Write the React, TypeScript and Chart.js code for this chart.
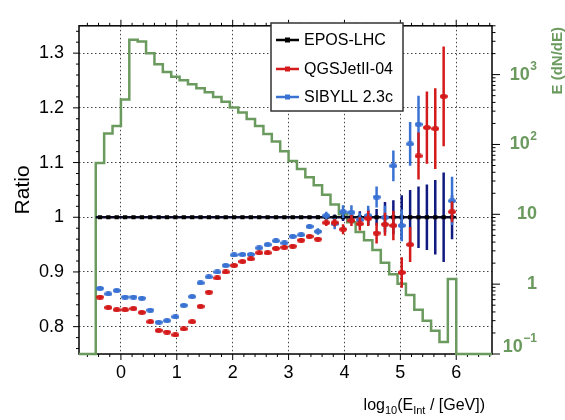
import React, { useEffect, useRef } from 'react';
import { Chart, registerables } from 'chart.js';

Chart.register(...registerables);

const FONT = '"Liberation Sans", Arial, Helvetica, sans-serif';

// Binning in log10(E_int / GeV)
const binLow = -0.45;
const binWidth = 0.15;

// Ratio to EPOS-LHC (per bin)
const eposRatio = [
  1, 1, 1, 1, 1, 1, 1, 1, 1, 1,
  1, 1, 1, 1, 1, 1, 1, 1, 1, 1,
  1, 1, 1, 1, 1, 1, 1, 1, 1, 1,
  1, 1, 1, 1, 1, 1, 1, 1, 1, 1,
  1, 1, 1,
];
const eposErr = [
  0.002, 0.002, 0.002, 0.002, 0.002, 0.002, 0.002, 0.002, 0.002, 0.002,
  0.002, 0.002, 0.002, 0.002, 0.002, 0.002, 0.002, 0.002, 0.002, 0.002,
  0.002, 0.002, 0.002, 0.002, 0.002, 0.002, 0.003, 0.004, 0.005, 0.007,
  0.009, 0.011, 0.014, 0.015, 0.028, 0.031, 0.040, 0.050, 0.056, 0.060,
  0.068, 0.082, 0.040,
];
const qgsRatio = [
  0.854, 0.835, 0.831, 0.831, 0.833, 0.826, 0.809, 0.793, 0.790, 0.785,
  0.796, 0.809, 0.837, 0.863, 0.889, 0.900, 0.912, 0.919, 0.924, 0.935,
  0.935, 0.943, 0.945, 0.947, 0.958, 0.965, 0.960, 0.990, 0.990, 0.978,
  0.994, 0.988, 0.998, 0.971, 0.987, 0.985, 0.899, 0.950, 1.112, 1.164,
  1.162, 1.221, 1.010,
];
const qgsErr = [
  0.003, 0.003, 0.003, 0.003, 0.003, 0.003, 0.003, 0.003, 0.003, 0.003,
  0.003, 0.003, 0.003, 0.003, 0.003, 0.003, 0.003, 0.003, 0.003, 0.003,
  0.003, 0.004, 0.004, 0.004, 0.004, 0.004, 0.004, 0.006, 0.007, 0.009,
  0.010, 0.012, 0.014, 0.019, 0.021, 0.027, 0.028, 0.032, 0.043, 0.066,
  0.074, 0.091, 0.019,
];
const sibyllRatio: (number | null)[] = [
  0.870, 0.860, 0.866, 0.854, 0.854, 0.852, 0.830, 0.808, 0.811, 0.818,
  0.839, 0.855, 0.880, 0.891, 0.900, 0.912, 0.931, 0.932, 0.932, 0.944,
  0.950, 0.957, 0.953, 0.965, 0.968, 0.983, 0.974, 1.003, 0.988, 1.010,
  1.009, 0.995, 1.003, 1.037, 1.000, 1.094, 0.985, 1.134, 1.170, null,
  null, null, 1.030,
];
const sibyllErr = [
  0.003, 0.003, 0.003, 0.003, 0.003, 0.003, 0.003, 0.003, 0.003, 0.003,
  0.003, 0.003, 0.003, 0.003, 0.003, 0.003, 0.003, 0.003, 0.003, 0.003,
  0.003, 0.004, 0.004, 0.004, 0.004, 0.004, 0.006, 0.007, 0.010, 0.012,
  0.013, 0.013, 0.018, 0.019, 0.021, 0.028, 0.029, 0.040, 0.052, 0,
  0, 0, 0.044,
];
// E (dN/dE) spectrum (right, log axis)
const spectrum = [
  54.5, 144, 184, 440, 3160, 2990, 2020, 1410, 1090, 929,
  834, 726, 639, 557, 480, 408, 337, 287, 232, 184,
  141, 110, 80, 58, 44.6, 34, 26.1, 19, 13.8, 10,
  7.7, 5.6, 4.26, 3.09, 2.02, 1.39, 1.01, 0.70, 0.43, 0.30,
  0.215, 0.148, 1.19,
];

const xTickValues = [0, 1, 2, 3, 4, 5, 6];
const yTickValues = [0.8, 0.9, 1, 1.1, 1.2, 1.3];
const rightTickValues = [1000, 100, 10, 1, 0.1];
const rightTickBase = ['10', '10', '10', '1', '10'];
const rightTickExp = ['3', '2', '', '', '\u22121'];

const X_MIN = -0.75;
const X_MAX = 6.64;
const Y_MIN = 0.75;
const Y_MAX = 1.35;
const Y2_MIN = 0.1;
const Y2_MAX = 5000;

const GREEN = '#6b9a5e';
const RED = '#d41a1a';
const BLUE = '#3a72d4';
const NAVY = '#111a80';

function makeEllipse(color: string, w: number, h: number) {
  const c = document.createElement('canvas');
  c.width = w;
  c.height = h;
  const g = c.getContext('2d')!;
  g.fillStyle = color;
  g.beginPath();
  g.ellipse(w / 2, h / 2, w / 2, h / 2, 0, 0, Math.PI * 2);
  g.fill();
  return c;
}

const rootPlugin = {
  id: 'rootStyle',
  beforeDatasetsDraw(chart: any) {
    const { ctx, chartArea: ca, scales } = chart;
    const xs = scales.x, ys = scales.y, y2 = scales.y2;
    ctx.save();
    ctx.strokeStyle = '#000';
    ctx.lineWidth = 1.5;
    ctx.strokeRect(ca.left, ca.top, ca.right - ca.left, ca.bottom - ca.top);
    ctx.lineWidth = 1;
    ctx.beginPath();
    for (let k = 38; k <= 67; k++) {
      const v = k / 50;
      const y = ys.getPixelForValue(v);
      const len = k % 5 === 0 ? 6 : 3;
      ctx.moveTo(ca.left, y);
      ctx.lineTo(ca.left - len, y);
    }
    for (let k = -3; k <= 33; k++) {
      const v = k / 5;
      if (v < X_MIN || v > X_MAX) continue;
      const x = xs.getPixelForValue(v);
      const len = k % 5 === 0 ? 6 : 3;
      ctx.moveTo(x, ca.bottom);
      ctx.lineTo(x, ca.bottom + len);
      ctx.moveTo(x, ca.top);
      ctx.lineTo(x, ca.top - len);
    }
    for (let d = -1; d <= 3; d++) {
      for (let m = 1; m <= 9; m++) {
        const v = m * Math.pow(10, d);
        if (v > Y2_MAX) break;
        const y = y2.getPixelForValue(v);
        const len = m === 1 ? 8 : 3.5;
        ctx.moveTo(ca.right, y);
        ctx.lineTo(ca.right + len, y);
      }
    }
    ctx.stroke();
    ctx.restore();
  },
  beforeDatasetDraw(chart: any, args: any) {
    const ds: any = chart.data.datasets[args.index];
    if (!ds.errColor) return;
    const { ctx, chartArea: ca, scales } = chart;
    const xs = scales.x, ys = scales.y;
    ctx.save();
    ctx.beginPath();
    ctx.rect(ca.left, ca.top, ca.right - ca.left, ca.bottom - ca.top);
    ctx.clip();
    ctx.lineCap = 'butt';
    ctx.strokeStyle = ds.errColor;
    ctx.lineWidth = 2.5;
    ctx.beginPath();
    ds.data.forEach((p: any) => {
      if (p.y == null || !p.e) return;
      const px = xs.getPixelForValue(p.x);
      ctx.moveTo(px, ys.getPixelForValue(p.y - p.e));
      ctx.lineTo(px, ys.getPixelForValue(p.y + p.e));
    });
    ctx.stroke();
    if (ds.errX) {
      ctx.strokeStyle = ds.errXColor;
      ctx.lineWidth = 2.5;
      ctx.beginPath();
      ds.data.forEach((p: any) => {
        const py = ys.getPixelForValue(p.y);
        ctx.moveTo(xs.getPixelForValue(p.x - ds.errX), py);
        ctx.lineTo(xs.getPixelForValue(p.x + ds.errX), py);
      });
      ctx.stroke();
    }
    ctx.restore();
  },
  afterDatasetsDraw(chart: any) {
    const { ctx, chartArea: ca, scales } = chart;
    const y2 = scales.y2;
    ctx.save();
    // right axis labels
    ctx.fillStyle = GREEN;
    ctx.textBaseline = 'middle';
    ctx.textAlign = 'right';
    const labelRight = ca.right + 45;
    rightTickValues.forEach((v, i) => {
      let y = y2.getPixelForValue(v);
      y = Math.min(y, ca.bottom - 7);
      const exp = rightTickExp[i];
      let xr = labelRight;
      if (exp) {
        ctx.font = `bold 12px ${FONT}`;
        ctx.fillText(exp, xr, y - 8);
        xr -= ctx.measureText(exp).width + 0.5;
      }
      ctx.font = `bold 18px ${FONT}`;
      ctx.fillText(rightTickBase[i], xr, y);
    });
    // right axis title
    ctx.save();
    ctx.translate(558, 27);
    ctx.rotate(-Math.PI / 2);
    ctx.font = `bold 15px ${FONT}`;
    ctx.textAlign = 'right';
    ctx.textBaseline = 'middle';
    ctx.fillText('E (dN/dE)', 0, 0);
    ctx.restore();
    // x axis title with subscripts
    const parts: [string, number, number][] = [
      ['log', 16, 0],
      ['10', 11, 4],
      ['(E', 16, 0],
      ['Int', 11, 4],
      [' / [GeV])', 16, 0],
    ];
    let total = 0;
    parts.forEach(([t, s]) => {
      ctx.font = `${s}px ${FONT}`;
      total += ctx.measureText(t).width;
    });
    let x = ca.right - 7 - total;
    const base = 410;
    ctx.fillStyle = '#000';
    ctx.textAlign = 'left';
    ctx.textBaseline = 'alphabetic';
    parts.forEach(([t, s, dy]) => {
      ctx.font = `${s}px ${FONT}`;
      ctx.fillText(t, x, base + dy);
      x += ctx.measureText(t).width;
    });
    // legend
    const lx = 271, ly = 23, lw = 132, lh = 88;
    ctx.fillStyle = '#fff';
    ctx.fillRect(lx, ly, lw, lh);
    ctx.strokeStyle = '#333';
    ctx.lineWidth = 1.5;
    ctx.strokeRect(lx, ly, lw, lh);
    const rows = [40, 69, 97];
    const colors = ['#000', RED, BLUE];
    [0, 1, 2].forEach((di) => {
      const y = rows[di];
      ctx.strokeStyle = colors[di];
      ctx.lineWidth = 2.5;
      ctx.beginPath();
      ctx.moveTo(276, y);
      ctx.lineTo(299, y);
      ctx.stroke();
      ctx.fillStyle = colors[di];
      ctx.fillRect(285, y - 2.5, 5, 5);
      ctx.fillStyle = '#000';
      ctx.font = `16px ${FONT}`;
      ctx.textBaseline = 'middle';
      ctx.fillText(chart.data.datasets[di].label, 304, y + 1);
    });
    ctx.restore();
  },
};

export default function App() {
  const ref = useRef<HTMLCanvasElement | null>(null);
  useEffect(() => {
    if (!ref.current) return;
    const centers = spectrum.map((_, i) => binLow + binWidth * (i + 0.5));
    const histPoints: { x: number; y: number }[] = [{ x: X_MIN, y: Y2_MIN }];
    spectrum.forEach((v, i) => {
      const lo = binLow + binWidth * i;
      if (i === 0) histPoints.push({ x: lo, y: Y2_MIN });
      histPoints.push({ x: lo, y: v });
      histPoints.push({ x: lo + binWidth, y: v });
    });
    histPoints.push({ x: binLow + binWidth * spectrum.length, y: Y2_MIN });
    histPoints.push({ x: X_MAX, y: Y2_MIN });

    const redMarker = makeEllipse(RED, 8, 5);
    const blueMarker = makeEllipse(BLUE, 8, 5);

    const chart = new Chart(ref.current, {
      type: 'scatter',
      data: {
        datasets: [
          {
            label: 'EPOS-LHC',
            data: centers.map((x, i) => ({ x, y: eposRatio[i], e: eposErr[i] })),
            pointStyle: 'rect',
            pointRadius: 3,
            backgroundColor: '#000',
            borderColor: '#000',
            borderWidth: 0,
            yAxisID: 'y',
            order: 3,
            errColor: NAVY,
            errX: binWidth / 2,
            errXColor: '#0a0a28',
          } as any,
          {
            label: 'QGSJetII-04',
            data: centers.map((x, i) => ({ x, y: qgsRatio[i], e: qgsErr[i] })),
            pointStyle: redMarker,
            pointRadius: 4,
            backgroundColor: RED,
            borderColor: RED,
            yAxisID: 'y',
            order: 1,
            errColor: RED,
          } as any,
          {
            label: 'SIBYLL 2.3c',
            data: centers
              .map((x, i) => ({ x, y: sibyllRatio[i], e: sibyllErr[i] }))
              .filter((p) => p.y != null),
            pointStyle: blueMarker,
            pointRadius: 4,
            backgroundColor: BLUE,
            borderColor: BLUE,
            yAxisID: 'y',
            order: 2,
            errColor: BLUE,
          } as any,
          {
            label: 'E (dN/dE)',
            data: histPoints,
            showLine: true,
            pointRadius: 0,
            borderColor: GREEN,
            borderWidth: 2.5,
            borderJoinStyle: 'miter',
            yAxisID: 'y2',
            order: 4,
            clip: 3,
          } as any,
        ],
      },
      options: {
        responsive: false,
        animation: false,
        devicePixelRatio: 1,
        layout: { padding: { top: 15, left: 0, right: 0, bottom: 0 } },
        plugins: { legend: { display: false }, tooltip: { enabled: false } },
        scales: {
          x: {
            type: 'linear',
            position: 'bottom',
            min: X_MIN,
            max: X_MAX,
            afterBuildTicks: (s: any) => {
              s.ticks = xTickValues.map((v) => ({ value: v }));
            },
            afterFit: (s: any) => {
              s.height = 66;
            },
            ticks: {
              padding: 8,
              color: '#000',
              font: { family: FONT, size: 18 },
              callback: (v: any) => `${v}`,
            },
            grid: { drawTicks: false, color: '#444', lineWidth: 1 },
            border: { display: false, dash: [1.5, 2.5] },
          },
          y: {
            type: 'linear',
            position: 'left',
            min: Y_MIN,
            max: Y_MAX,
            afterBuildTicks: (s: any) => {
              s.ticks = yTickValues.map((v) => ({ value: v }));
            },
            afterFit: (s: any) => {
              s.width = 79;
            },
            ticks: {
              padding: 15,
              color: '#000',
              font: { family: FONT, size: 18 },
              callback: (v: any) => `${v}`,
            },
            title: {
              display: true,
              text: 'Ratio',
              color: '#000',
              font: { family: FONT, size: 21 },
              padding: { top: 11, bottom: 0 },
            },
            grid: { drawTicks: false, color: '#444', lineWidth: 1 },
            border: { display: false, dash: [1.5, 2.5] },
          },
          y2: {
            type: 'logarithmic',
            position: 'right',
            min: Y2_MIN,
            max: Y2_MAX,
            afterFit: (s: any) => {
              s.width = 73;
            },
            ticks: { display: false },
            grid: { display: false, drawTicks: false },
            border: { display: false },
          },
        },
      } as any,
      plugins: [rootPlugin as any],
    });
    return () => chart.destroy();
  }, []);

  return (
    <div
      style={{
        position: 'fixed',
        left: 0,
        top: 0,
        width: 565,
        height: 420,
        background: '#fff',
      }}
    >
      <canvas ref={ref} width={565} height={420} style={{ display: 'block' }} />
    </div>
  );
}
